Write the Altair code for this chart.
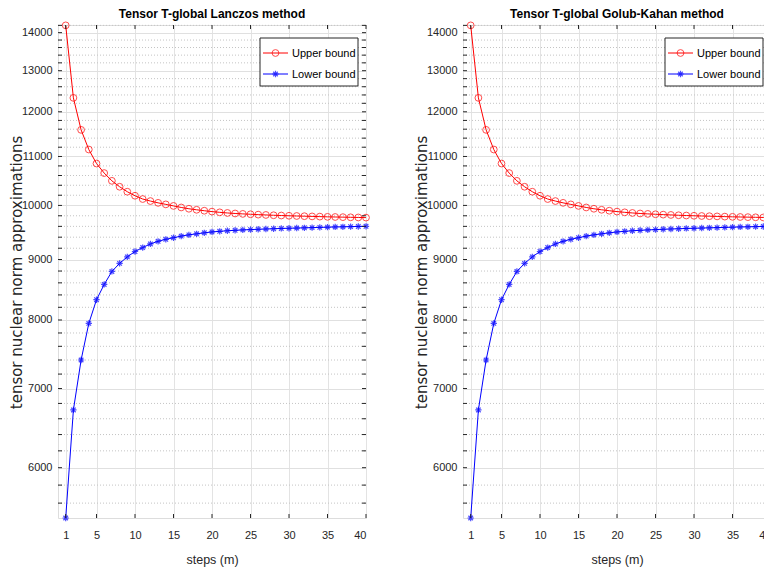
import altair as alt
import pandas as pd

steps = list(range(1, 41))
upper_bound = [14200, 12330, 11585, 11150, 10850, 10650, 10490, 10370, 10270, 10190,
               10125, 10085, 10050, 10020, 9990, 9960, 9935, 9915, 9897, 9880,
               9866, 9854, 9844, 9836, 9829, 9822, 9816, 9810, 9805, 9800,
               9796, 9792, 9788, 9784, 9780, 9777, 9774, 9771, 9768, 9765]
lower_bound = [5440, 6714, 7400, 7947, 8322, 8573, 8793, 8932, 9047, 9141,
               9212, 9277, 9325, 9361, 9390, 9420, 9443, 9462, 9480, 9496,
               9508, 9518, 9527, 9534, 9540, 9546, 9551, 9556, 9561, 9565,
               9569, 9573, 9577, 9581, 9585, 9589, 9592, 9595, 9598, 9601]
x_ticks = [1, 5, 10, 15, 20, 25, 30, 35, 40]
y_major = [6000, 7000, 8000, 9000, 10000, 11000, 12000, 13000, 14000]
y_minor = [5600, 5800, 6200, 6400, 6600, 6800, 7200, 7400, 7600, 7800,
           8200, 8400, 8600, 8800, 9200, 9400, 9600, 9800,
           10200, 10400, 10600, 10800, 11200, 11400, 11600, 11800,
           12200, 12400, 12600, 12800, 13200, 13400, 13600, 13800, 14200]
panel_titles = ["Tensor T-global Lanczos method", "Tensor T-global Golub-Kahan method"]
legend_labels = ["Upper bound", "Lower bound"]
x_title = "steps (m)"
y_title = "tensor nuclear norm approximations"

W, H = 308, 493
FONT = "Liberation Sans"
AX = "#262626"
ASTER = "M-1,0L1,0M0,-1L0,1M-0.72,-0.72L0.72,0.72M-0.72,0.72L0.72,-0.72"

df = pd.DataFrame({"step": steps, "upper": upper_bound, "lower": lower_bound})
df_xt = pd.DataFrame({"v": x_ticks})
df_yt = pd.DataFrame({"v": y_major + y_minor})
df_ymin = pd.DataFrame({"v": y_minor})

xscale = alt.Scale(domain=[0, 40], nice=False, zero=False)
yscale = alt.Scale(type="log", domain=[5440, 14210], nice=False, zero=False)

xaxis = alt.Axis(values=x_ticks, title=x_title, ticks=False, domain=False,
                 labelFont=FONT, labelFontSize=11, labelColor=AX, labelPadding=11,
                 titleFont=FONT, titleFontSize=12.5, titleFontWeight="normal",
                 titleColor=AX, titlePadding=13,
                 grid=True, gridColor="#e3e3e3", gridWidth=1)
yaxis = alt.Axis(values=y_major, title=y_title, ticks=False, domain=False,
                 format="d",
                 labelFont=FONT, labelFontSize=11, labelColor=AX, labelPadding=6,
                 titleFont="DejaVu Sans", titleFontSize=15, titleFontWeight="normal",
                 titleColor=AX, titleAngle=270, titleX=-37, titleY=247,
                 titleAlign="center", titleBaseline="alphabetic",
                 grid=True, gridColor="#e0e0e0", gridWidth=1)


def panel(title):
    base = alt.Chart(df)
    minor_grid = alt.Chart(df_ymin).mark_rule(color="#c4c4c4", strokeWidth=1, strokeDash=[1, 2]).encode(
        y=alt.Y("v:Q", scale=yscale, axis=yaxis), x=alt.value(0), x2=alt.value(W))
    up_line = base.mark_line(color="#ff0000", strokeWidth=1).encode(
        x=alt.X("step:Q", scale=xscale, axis=xaxis),
        y=alt.Y("upper:Q", scale=yscale, axis=yaxis))
    up_pts = base.mark_point(shape="circle", filled=False, color="#ff0000", size=46, strokeWidth=1).encode(
        x=alt.X("step:Q", scale=xscale, axis=xaxis),
        y=alt.Y("upper:Q", scale=yscale, axis=yaxis))
    lo_line = base.mark_line(color="#0000ff", strokeWidth=1).encode(
        x=alt.X("step:Q", scale=xscale, axis=xaxis),
        y=alt.Y("lower:Q", scale=yscale, axis=yaxis))
    lo_pts = base.mark_point(shape=ASTER, filled=False, color="#0000ff", size=40, strokeWidth=1.2).encode(
        x=alt.X("step:Q", scale=xscale, axis=xaxis),
        y=alt.Y("lower:Q", scale=yscale, axis=yaxis))

    tl = 4
    xt = alt.Chart(df_xt)
    yt = alt.Chart(df_yt)
    xt_bot = xt.mark_rule(color=AX, strokeWidth=1).encode(
        x=alt.X("v:Q", scale=xscale, axis=xaxis), y=alt.value(H), y2=alt.value(H - tl))
    xt_top = xt.mark_rule(color=AX, strokeWidth=1).encode(
        x=alt.X("v:Q", scale=xscale, axis=xaxis), y=alt.value(0), y2=alt.value(tl))
    yt_left = yt.mark_rule(color=AX, strokeWidth=1).encode(
        y=alt.Y("v:Q", scale=yscale, axis=yaxis), x=alt.value(0), x2=alt.value(tl))
    yt_right = yt.mark_rule(color=AX, strokeWidth=1).encode(
        y=alt.Y("v:Q", scale=yscale, axis=yaxis), x=alt.value(W), x2=alt.value(W - tl))

    one = pd.DataFrame({"k": [0]})
    lg = alt.Chart(one)
    box = lg.mark_rect(fill="white", stroke=AX, strokeWidth=1).encode(
        x=alt.value(202), x2=alt.value(300), y=alt.value(13), y2=alt.value(61))
    layers = [box]
    ys = [28, 49]
    for i, (lab, col) in enumerate(zip(legend_labels, ["#ff0000", "#0000ff"])):
        layers.append(lg.mark_rule(color=col, strokeWidth=1).encode(
            x=alt.value(205), x2=alt.value(230), y=alt.value(ys[i])))
        if i == 0:
            layers.append(lg.mark_point(shape="circle", filled=False, color=col, size=46, strokeWidth=1).encode(
                x=alt.value(217.5), y=alt.value(ys[i])))
        else:
            layers.append(lg.mark_point(shape=ASTER, filled=False, color=col, size=40, strokeWidth=1.2).encode(
                x=alt.value(217.5), y=alt.value(ys[i])))
        layers.append(lg.mark_text(align="left", baseline="middle", font=FONT, fontSize=11,
                                   color="black").encode(
            x=alt.value(234), y=alt.value(ys[i] + 0.5), text=alt.value(lab)))

    return alt.layer(minor_grid, up_line, lo_line, up_pts, lo_pts, xt_bot, xt_top, yt_left, yt_right,
                     *layers).properties(
        width=W, height=H,
        title=alt.TitleParams(title, font=FONT, fontSize=12, fontWeight="bold",
                              color="black", offset=-1, anchor="middle"))


chart = alt.hconcat(panel(panel_titles[0]), panel(panel_titles[1]), spacing=40).properties(
    padding={"left": 0, "top": -1, "right": -14, "bottom": 2}
).configure_view(stroke=AX, strokeWidth=1.2).configure(background="white")

chart.save("out.html", embed_options={"renderer": "svg", "actions": False})
